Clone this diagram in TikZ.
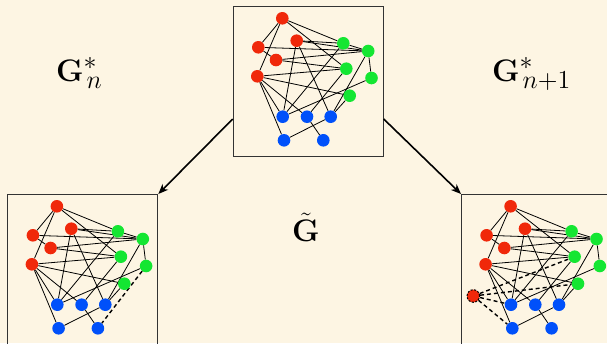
\documentclass[tikz,border=0pt]{standalone}
\usetikzlibrary{arrows.meta}
\definecolor{bgc}{RGB}{253,245,227}
\definecolor{nred}{RGB}{240,40,10}
\definecolor{ngreen}{RGB}{20,230,50}
\definecolor{nblue}{RGB}{0,80,250}
\pgfdeclarelayer{bgfill}
\pgfdeclarelayer{background}
\pgfsetlayers{bgfill,background,main}
\tikzset{
  vtx/.style={circle, inner sep=0pt, minimum size=12.6pt},
  rv/.style={vtx, fill=nred},
  gv/.style={vtx, fill=ngreen},
  bv/.style={vtx, fill=nblue},
  edge/.style={black, line width=0.8pt},
  newedge/.style={black, line width=1.4pt, dash pattern=on 4pt off 3pt},
  frame/.style={draw=black!80, line width=1pt, minimum width=150pt, minimum height=150pt, inner sep=0pt, anchor=north west},
  arr/.style={black, line width=1.6pt, -{Stealth[length=10pt,width=8pt,inset=3pt]}},
  lbl/.style={anchor=base west, inner sep=0pt, font=\huge},
}
\newcommand\subsc[1]{\scalebox{1.2}{$\scriptstyle #1$}}
\newcommand\drawgraph[1]{%
  \node[rv] (#1R1) at (49.6,12.3) {};
  \node[rv] (#1R2) at (25.6,41.3) {};
  \node[rv] (#1R3) at (64,34.7) {};
  \node[rv] (#1R4) at (43.3,54) {};
  \node[rv] (#1R5) at (24.6,70.3) {};
  \node[gv] (#1G1) at (110.6,37.3) {};
  \node[gv] (#1G2) at (135.5,45) {};
  \node[gv] (#1G3) at (113.6,62.7) {};
  \node[gv] (#1G4) at (138.8,72) {};
  \node[gv] (#1G5) at (117,89.7) {};
  \node[bv] (#1B1) at (50,110.7) {};
  \node[bv] (#1B2) at (74.3,110.7) {};
  \node[bv] (#1B3) at (98,110.7) {};
  \node[bv] (#1B4) at (51.3,134.3) {};
  \node[bv] (#1B5) at (90.6,134.3) {};
  \begin{pgfonlayer}{background}
    \foreach \a/\b in {R1/R2,R1/R5,R1/G1,R1/G3,R2/R4,R2/G2,R3/G1,R3/G2,R3/B1,R3/B3,
                       R4/G2,R4/G3,R5/G3,R5/G5,R5/B1,R5/B2,R5/B4,G1/G2,G1/B1,G2/G4,
                       G2/B3,G3/B2,G4/B1,G5/B3,B4/B3,B2/B5}
      {\draw[edge] (#1\a) -- (#1\b);}
  \end{pgfonlayer}
}
\begin{document}
\begin{tikzpicture}[x=1pt,y=-1pt]
\useasboundingbox (0,0) rectangle (607,343);
\begin{pgfonlayer}{bgfill}
  \fill[bgc] (0,0) rectangle (607,343);
\end{pgfonlayer}

\node[frame] (top) at (232.7,6) {};
\node[frame] (left) at (7.3,194) {};
\node[frame] (right) at (461,194) {};

\begin{scope}[shift={(232.7,6)}]
  \drawgraph{t}
\end{scope}
\begin{scope}[shift={(7.3,194)}]
  \drawgraph{l}
  \begin{pgfonlayer}{background}
    \draw[newedge] (lG4) -- (lB5);
  \end{pgfonlayer}
\end{scope}
\begin{scope}[shift={(461,194)}]
  \drawgraph{r}
  \node[rv, draw=black, line width=1pt, dash pattern=on 2pt off 1.5pt] (rN) at (12.3,102) {};
  \begin{pgfonlayer}{background}
    \foreach \b in {G3,G5,B1,B4} {\draw[newedge] (rN) -- (r\b);}
  \end{pgfonlayer}
\end{scope}

\draw[arr] ([yshift=38pt]top.south west) -- (left.north east);
\draw[arr] ([yshift=38pt]top.south east) -- (right.north west);

\node[lbl] (gn) at (56,81) {\scalebox{1.5}{$\mathbf{G}^{\subsc{*}}_{\kern2pt\subsc{n}}$}};
\node[lbl] (gn1) at (492,81) {\scalebox{1.5}{$\mathbf{G}^{\subsc{*}}_{\kern2pt\subsc{n+1}}$}};
\node[lbl] (gt) at (292,241.5) {\scalebox{1.5}{$\tilde{\mathbf{G}}$}};
\end{tikzpicture}
\end{document}
